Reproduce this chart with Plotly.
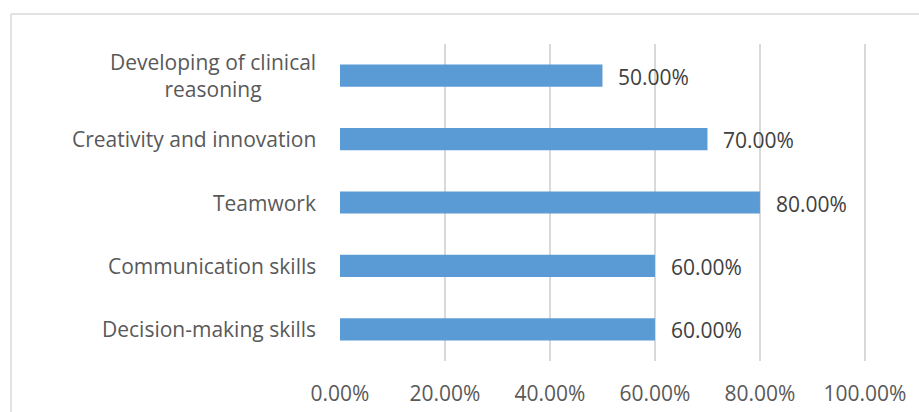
import plotly.graph_objects as go

# Skills reported, bottom to top as drawn
skills = [
    "Decision-making skills",
    "Communication skills",
    "Teamwork",
    "Creativity and innovation",
    "Developing of clinical<br>reasoning",
]
shares = [60, 60, 80, 70, 50]  # percent
x_ticks = [0, 20, 40, 60, 80, 100]
x_tick_labels = ["0.00%", "20.00%", "40.00%", "60.00%", "80.00%", "100.00%"]

W, H = 919, 412
M_L, M_R, M_T, M_B = 340, 53, 44, 51
FONT = "Open Sans"
FS = 21

fig = go.Figure(
    go.Bar(
        x=shares,
        y=skills,
        orientation="h",
        marker=dict(color="#5B9BD5", line=dict(width=0)),
        hoverinfo="skip",
    )
)

annotations = []
# Category labels, centred per line and right-aligned to the axis
for s in skills:
    annotations.append(dict(
        x=0, xref="paper", y=s, yref="y",
        text=s, showarrow=False, xanchor="right", yanchor="middle",
        xshift=-22, align="center",
        font=dict(family=FONT, size=FS, color="#595959"),
    ))
# Value labels just past the end of each bar
for s, v in zip(skills, shares):
    annotations.append(dict(
        x=v, xref="x", y=s, yref="y",
        text=f"{v:.2f}%", showarrow=False, xanchor="left", yanchor="middle",
        xshift=14, yshift=-1,
        font=dict(family=FONT, size=FS, color="#404040"),
    ))

plot_w = W - M_L - M_R
plot_h = H - M_T - M_B
# Light outer frame of the chart area
frame_left = (11 - M_L) / plot_w
frame_top = 1 + (M_T - 14) / plot_h
frame_right = 1 + (M_R + 10) / plot_w
frame_bottom = -(M_B + 10) / plot_h
shapes = [
    dict(type="line", xref="paper", yref="paper",
         x0=frame_left, x1=frame_right, y0=frame_top, y1=frame_top,
         line=dict(color="#d9d9d9", width=1.5)),
    dict(type="line", xref="paper", yref="paper",
         x0=frame_left, x1=frame_left, y0=frame_bottom, y1=frame_top,
         line=dict(color="#d9d9d9", width=1.5)),
]

fig.update_layout(
    width=W, height=H,
    margin=dict(l=M_L, r=M_R, t=M_T, b=M_B),
    paper_bgcolor="white", plot_bgcolor="white",
    bargap=0.65,
    showlegend=False,
    annotations=annotations,
    shapes=shapes,
    xaxis=dict(
        range=[0, 100.2],
        tickvals=x_ticks, ticktext=x_tick_labels,
        showgrid=True, gridcolor="#d9d9d9", gridwidth=1.5,
        zeroline=False, showline=False, ticks="",
        tickfont=dict(family=FONT, size=FS, color="#595959"),
        ticklabelstandoff=18,
        automargin=False,
        fixedrange=True,
    ),
    yaxis=dict(
        showticklabels=False, showgrid=False, zeroline=False,
        showline=False, ticks="", automargin=False, fixedrange=True,
    ),
)

fig.write_html("out.html", config={"displayModeBar": False})
